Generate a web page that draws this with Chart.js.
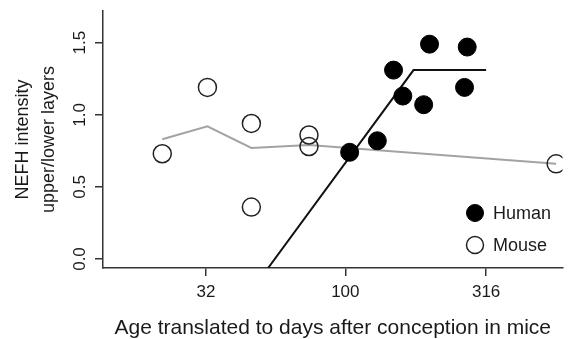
<!DOCTYPE html>
<html>
<head>
<meta charset="utf-8">
<script src="https://cdn.jsdelivr.net/npm/chart.js@4.4.1/dist/chart.umd.min.js"></script>
<style>
  html, body { margin: 0; padding: 0; background: #fff; }
  #wrap { width: 573px; height: 339px; }
</style>
</head>
<body>
<div id="wrap"><canvas id="chart"></canvas></div>
<script>
// values (x = days after conception, log scale)
const mouseAge = [22.4, 32.4, 46.4, 46.4, 74.3, 74.3, 560];
const mouseRatio = [0.73, 1.19, 0.94, 0.36, 0.86, 0.78, 0.66];
const humanAge = [103.6, 129.9, 148.3, 160, 189.7, 199, 270.8, 264.9];
const humanRatio = [0.74, 0.82, 1.31, 1.13, 1.07, 1.49, 1.47, 1.19];
const mouseTrendAge = [22.4, 32.4, 46.4, 74.3, 560];
const mouseTrend = [0.83, 0.92, 0.77, 0.79, 0.66];
const humanFitAge = [53.2, 174.6, 316];
const humanFit = [-0.0625, 1.31, 1.31];
const xTicks = [32, 100, 316];
const yTicks = [0, 0.5, 1, 1.5];
const yTickLabels = ['0.0', '0.5', '1.0', '1.5'];
const legendNames = ['Human', 'Mouse'];

const FONT = "'Liberation Sans', Arial, Helvetica, sans-serif";
const pts = (xs, ys) => xs.map((x, i) => ({ x: x, y: ys[i] }));

// R-style rotated y tick labels
const yLabelsPlugin = {
  id: 'yLabels',
  afterDraw(chart) {
    const { ctx } = chart;
    const y = chart.scales.y;
    ctx.save();
    ctx.fillStyle = '#1a1a1a';
    ctx.font = '17px ' + FONT;
    ctx.textAlign = 'center';
    ctx.textBaseline = 'middle';
    yTicks.forEach((v, i) => {
      ctx.save();
      ctx.translate(80, y.getPixelForValue(v));
      ctx.rotate(-Math.PI / 2);
      ctx.fillText(yTickLabels[i], 0, 0);
      ctx.restore();
    });
    ctx.restore();
  }
};

// legend in the lower right corner of the plot
const legendPlugin = {
  id: 'innerLegend',
  afterDraw(chart) {
    const { ctx } = chart;
    ctx.save();
    ctx.font = '18px ' + FONT;
    ctx.textBaseline = 'middle';
    legendNames.forEach((name, i) => {
      const d = chart.data.datasets.find(ds => ds.label === name);
      const cx = 475, cy = 213 + i * 32;
      ctx.beginPath();
      ctx.arc(cx, cy, 8.5, 0, Math.PI * 2);
      ctx.fillStyle = d.backgroundColor;
      ctx.fill();
      ctx.lineWidth = d.borderWidth;
      ctx.strokeStyle = d.borderColor;
      ctx.stroke();
      ctx.fillStyle = '#1a1a1a';
      ctx.fillText(d.label, 493, cy + 1);
    });
    ctx.restore();
  }
};

new Chart(document.getElementById('chart'), {
  type: 'scatter',
  data: {
    datasets: [
      {
        label: 'Mouse trend',
        type: 'line',
        data: pts(mouseTrendAge, mouseTrend),
        borderColor: '#a3a3a3',
        borderWidth: 2,
        pointRadius: 0,
        fill: false,
        order: 4
      },
      {
        label: 'Human fit',
        type: 'line',
        data: pts(humanFitAge, humanFit),
        borderColor: '#111',
        borderWidth: 2,
        pointRadius: 0,
        fill: false,
        order: 3
      },
      {
        label: 'Mouse',
        data: pts(mouseAge, mouseRatio),
        backgroundColor: 'rgba(255,255,255,0)',
        borderColor: '#222',
        borderWidth: 1.5,
        pointRadius: 9,
        order: 2
      },
      {
        label: 'Human',
        data: pts(humanAge, humanRatio),
        backgroundColor: '#000',
        borderColor: '#000',
        borderWidth: 1,
        pointRadius: 9,
        order: 1
      }
    ]
  },
  options: {
    responsive: true,
    maintainAspectRatio: false,
    animation: false,
    layout: { padding: { top: 11, right: 10, left: 0, bottom: 0 } },
    scales: {
      x: {
        type: 'logarithmic',
        min: 13.8,
        max: 590,
        afterBuildTicks(scale) { scale.ticks = xTicks.map(v => ({ value: v })); },
        afterFit(scale) { scale.height = 71; },
        border: { display: true, color: '#333', width: 1.5 },
        grid: { drawOnChartArea: false, tickLength: 8, color: '#333', lineWidth: 1.5 },
        ticks: {
          color: '#1a1a1a',
          padding: 6,
          maxRotation: 0,
          font: { family: FONT, size: 17 },
          callback(v) { return String(v); }
        },
        title: {
          display: true,
          text: 'Age translated to days after conception in mice',
          color: '#1a1a1a',
          font: { family: FONT, size: 21, lineHeight: 1.05 },
          padding: { top: 0, bottom: 0 }
        }
      },
      y: {
        min: -0.0625,
        max: 1.72,
        afterBuildTicks(scale) { scale.ticks = yTicks.map(v => ({ value: v })); },
        afterFit(scale) { scale.width = 103; },
        border: { display: true, color: '#333', width: 1.5 },
        grid: { drawOnChartArea: false, tickLength: 8, color: '#333', lineWidth: 1.5 },
        ticks: { display: false },
        title: {
          display: true,
          text: ['NEFH intensity', 'upper/lower layers'],
          color: '#1a1a1a',
          font: { family: FONT, size: 18, lineHeight: 1.45 },
          padding: { top: 10, bottom: 0 }
        }
      }
    },
    plugins: {
      legend: { display: false },
      tooltip: { enabled: false }
    }
  },
  plugins: [yLabelsPlugin, legendPlugin]
});
</script>
</body>
</html>
